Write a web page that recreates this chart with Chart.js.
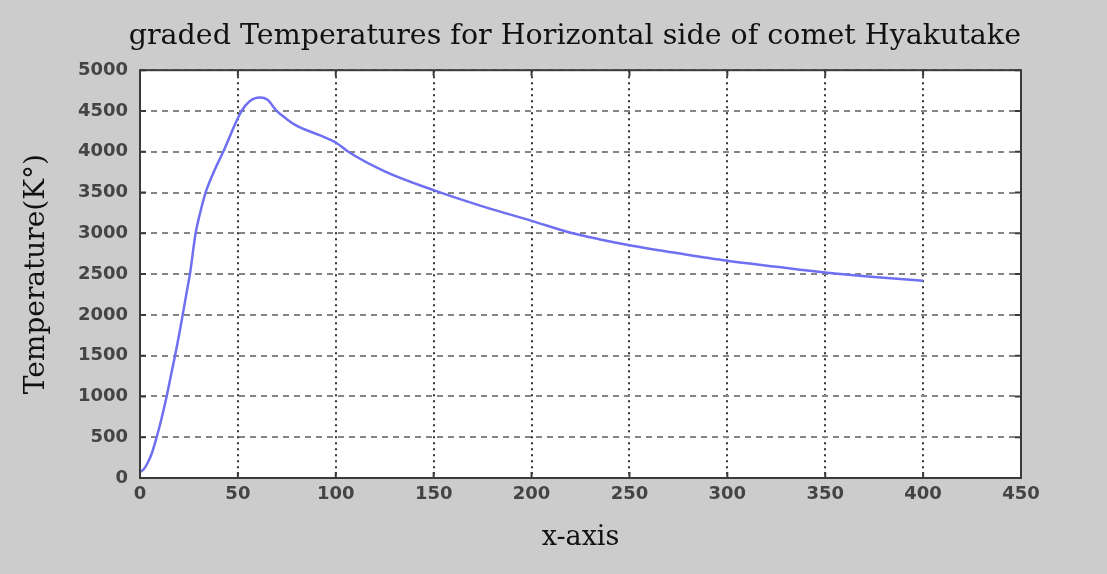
<!DOCTYPE html>
<html>
<head>
<meta charset="utf-8">
<script src="https://cdn.jsdelivr.net/npm/chart.js@4.4.1/dist/chart.umd.min.js"></script>
<style>
  html, body { margin: 0; padding: 0; background: #cccccc; }
  #wrap { width: 1107px; height: 574px; }
</style>
</head>
<body>
<div id="wrap"><canvas id="tempChart"></canvas></div>
<script>
// ── Data ──
const X_VALUES = [0, 2, 4, 6, 8.5, 11, 13.6, 16, 17.9, 20, 21.8, 24, 25.5, 28.4, 30.5, 33.5, 38, 42.5, 51.9, 56, 61.3, 65, 69.8, 75, 80, 92, 100, 106.4, 125, 150, 175, 200, 221, 235, 250, 275, 300, 325, 350, 375, 400];
const TEMPS    = [70, 110, 190, 300, 500, 730, 1000, 1280, 1500, 1760, 2000, 2300, 2500, 3000, 3230, 3500, 3770, 4000, 4500, 4620, 4665, 4640, 4500, 4400, 4320, 4200, 4114, 4000, 3760, 3529, 3330, 3153, 3000, 2925, 2855, 2755, 2663, 2590, 2520, 2465, 2418];
const X_TICKS  = [0, 50, 100, 150, 200, 250, 300, 350, 400, 450];
const Y_TICKS  = [0, 500, 1000, 1500, 2000, 2500, 3000, 3500, 4000, 4500, 5000];

const C_LINE  = '#6f6ff2';
const C_FRAME = '#3a3a3a';
const C_TICK  = '#444444';

// ── White plot area + frame with inner tick marks ──
const plotFrame = {
  id: 'plotFrame',
  beforeDraw(chart) {
    const { ctx, chartArea: a } = chart;
    ctx.save();
    ctx.fillStyle = '#ffffff';
    ctx.fillRect(a.left, a.top, a.right - a.left, a.bottom - a.top);
    ctx.restore();
  },
  afterDraw(chart) {
    const { ctx, chartArea: a, scales } = chart;
    ctx.save();
    ctx.strokeStyle = C_FRAME;
    ctx.lineWidth = 2;
    ctx.setLineDash([]);
    ctx.beginPath();
    X_TICKS.forEach(v => {
      const px = scales.x.getPixelForValue(v);
      ctx.moveTo(px, a.bottom); ctx.lineTo(px, a.bottom - 6);
      ctx.moveTo(px, a.top);    ctx.lineTo(px, a.top + 6);
    });
    Y_TICKS.forEach(v => {
      const py = scales.y.getPixelForValue(v);
      ctx.moveTo(a.left, py);  ctx.lineTo(a.left + 6, py);
      ctx.moveTo(a.right, py); ctx.lineTo(a.right - 6, py);
    });
    ctx.stroke();
    ctx.strokeRect(a.left, a.top, a.right - a.left, a.bottom - a.top);
    ctx.restore();
  }
};

new Chart(document.getElementById('tempChart'), {
  type: 'line',
  data: {
    datasets: [{
      data: X_VALUES.map((x, i) => ({ x, y: TEMPS[i] })),
      borderColor: C_LINE,
      borderWidth: 2.5,
      pointRadius: 0,
      cubicInterpolationMode: 'monotone',
      fill: false,
    }]
  },
  options: {
    responsive: true,
    maintainAspectRatio: false,
    animation: false,
    layout: { padding: { left: 0, right: 86, top: 0, bottom: 0 } },
    plugins: {
      legend: { display: false },
      tooltip: { enabled: false },
      title: {
        display: true,
        text: 'graded Temperatures for Horizontal side of comet Hyakutake',
        align: 'end',
        color: '#111111',
        font: { family: 'DejaVu Serif', size: 28.5, weight: 'normal' },
        padding: { top: 19, bottom: 17 },
      }
    },
    scales: {
      x: {
        type: 'linear',
        min: 0,
        max: 450,
        afterBuildTicks: s => { s.ticks = X_TICKS.map(v => ({ value: v })); },
        afterFit: s => { s.height = 96; },
        border: { display: false, dash: [2, 4] },
        grid: { color: '#333333', lineWidth: 2, drawTicks: false },
        ticks: {
          color: C_TICK,
          padding: 6,
          font: { family: 'DejaVu Sans', size: 18, weight: 'bold' },
          callback: v => String(v),
        },
        title: {
          display: true,
          text: 'x-axis',
          color: '#111111',
          font: { family: 'DejaVu Serif', size: 27 },
          padding: { top: 0, bottom: 20 },
        }
      },
      y: {
        min: 0,
        max: 5000,
        afterBuildTicks: s => { s.ticks = Y_TICKS.map(v => ({ value: v })); },
        afterFit: s => { s.width = 140; },
        border: { display: false, dash: [6, 5] },
        grid: { color: '#858585', lineWidth: 2, drawTicks: false },
        ticks: {
          color: C_TICK,
          padding: 12,
          font: { family: 'DejaVu Sans', size: 18, weight: 'bold' },
          callback: v => String(v),
        },
        title: {
          display: true,
          text: 'Temperature(K°)',
          color: '#111111',
          font: { family: 'DejaVu Serif', size: 28 },
          padding: { top: 20, bottom: 0 },
        }
      }
    }
  },
  plugins: [plotFrame]
});
</script>
</body>
</html>
